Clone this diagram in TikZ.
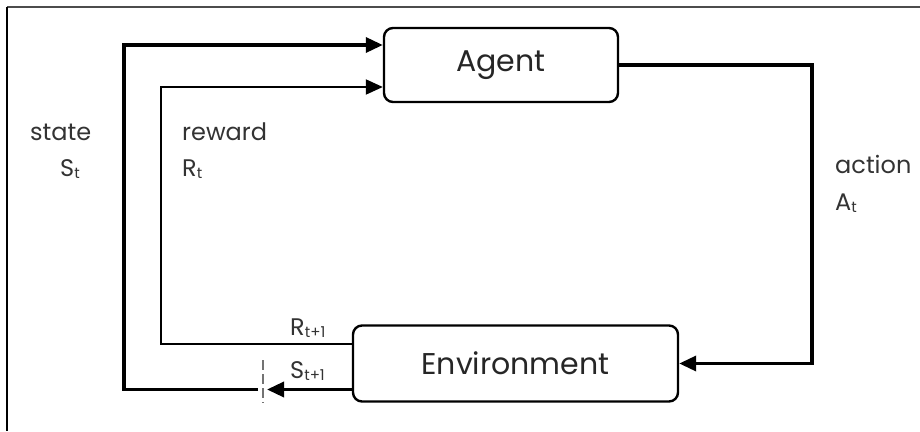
\documentclass[tikz,border=0pt]{standalone}
\usepackage{fontspec}
\setmainfont{Poppins}
\usetikzlibrary{arrows.meta}
\newcommand{\sub}[1]{\raisebox{-2.5pt}{\fontsize{15}{15}\selectfont #1}}
\tikzset{
  box/.style={draw, line width=2.4pt, rounded corners=9pt, fill=white,
    font=\fontsize{30}{30}\selectfont, text=black!85},
  heavy/.style={line width=3.4pt, -{Triangle[length=17pt,width=15pt]}},
  light/.style={line width=2pt, -{Triangle[length=17pt,width=15pt]}},
  lbl/.style={anchor=base west, inner sep=0pt, font=\fontsize{24}{24}\selectfont, text=black!80},
}
\begin{document}
\begin{tikzpicture}[x=1pt,y=-1pt]
  \useasboundingbox (0,0) rectangle (920,431);
  % frame
  \draw[black!70, line width=2.2pt] (7,7) -- (920,7);
  \draw[line width=1.6pt] (7,7) -- (7,431);

  % boxes
  \node[box, minimum width=234pt, minimum height=74pt] (agent) at (501,65) {Agent};
  \node[box, minimum width=325pt, minimum height=76pt] (env) at (515.5,363.5) {Environment};

  % ports on the boxes
  \coordinate (ain1) at ([yshift=20pt]agent.west);
  \coordinate (ain2) at ([yshift=-22pt]agent.west);
  \coordinate (eout1) at ([yshift=-26pt]env.west);
  \coordinate (eout2) at ([yshift=20pt]env.west);

  % routing points
  \coordinate (stip) at (267,389.5);
  \coordinate (stail) at (258,389.5);
  \coordinate (scol) at (124,0);
  \coordinate (rcol) at (161,0);
  \coordinate (acol) at (812,0);

  % state
  \draw[heavy] (eout1) -- (stip);
  \draw[heavy] (stail) -- (stail -| scol) -- (scol |- ain1) -- (ain1);
  % reward
  \draw[light] (eout2) -- (eout2 -| rcol) -- (rcol |- ain2) -- (ain2);
  % action
  \draw[heavy] (agent.east) -- (agent.east -| acol) -- (acol |- env.east) -- (env.east);

  % time-step boundary
  \coordinate (dtop) at (263,360);
  \coordinate (dbot) at (263,403);
  \draw[black!55, line width=1.5pt, dash pattern=on 10pt off 4pt] (dtop) -- (dbot);

  % labels
  \node[lbl] (ls) at (30,140) {state};
  \node[lbl] (lst) at (60,176) {S\sub{t}};
  \node[lbl] (lr) at (182,140) {reward};
  \node[lbl] (lrt) at (182,176) {R\sub{t}};
  \node[lbl] (la) at (835,173) {action};
  \node[lbl] (lat) at (835,210) {A\sub{t}};
  \node[lbl] (lr1) at (290,335) {R\sub{t+1}};
  \node[lbl] (ls1) at (290,378) {S\sub{t+1}};
\end{tikzpicture}
\end{document}
